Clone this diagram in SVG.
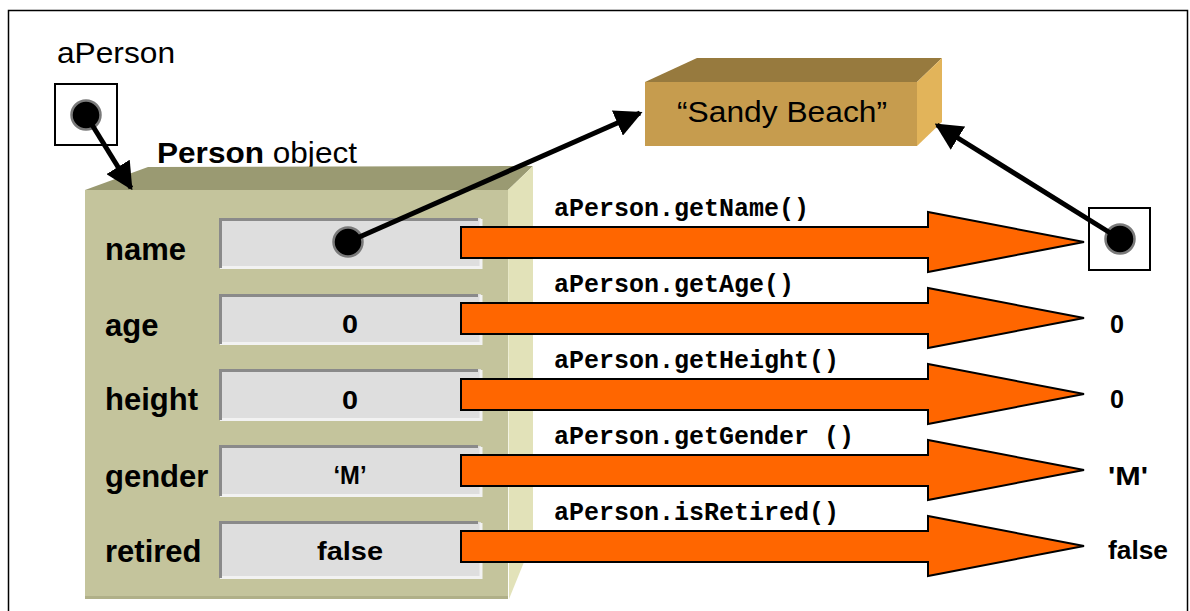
<svg xmlns="http://www.w3.org/2000/svg" width="1190" height="611" viewBox="0 0 1190 611">
<defs>
<style>
.sans{font-family:"Liberation Sans",Arial,sans-serif;fill:#000}
.b{font-weight:bold}
.lbl{font-size:31px}
.mono{font-family:"Liberation Mono","Courier New",monospace;font-weight:bold;font-size:25px;fill:#000}
.field{fill:#dedede}
.fdark{fill:none;stroke:#8a8a8a;stroke-width:3}
.flight{fill:none;stroke:#f2f2f2;stroke-width:3}
.oarrow{fill:#ff6600;stroke:#000;stroke-width:2;stroke-linejoin:miter}
.dot{fill:#000;stroke:#7a7a7a;stroke-width:2.5}
.conn{stroke:#000;stroke-width:5;fill:none}
.ptr{fill:#fff;stroke:#000;stroke-width:2}
</style>
<marker id="ah" viewBox="0 0 10 10" refX="9" refY="5" markerWidth="5.5" markerHeight="5.5" markerUnits="strokeWidth" orient="auto">
<path d="M0,0 L10,5 L0,10 z" fill="#000"/>
</marker>
</defs>
<rect x="8.5" y="10.5" width="1179" height="640" fill="#fff" stroke="#000" stroke-width="1.5"/>

<g id="aPerson-var">
<text class="sans" x="57" y="63" font-size="29" textLength="118" lengthAdjust="spacingAndGlyphs">aPerson</text>
<rect class="ptr" x="55" y="84" width="62" height="61"/>
<circle class="dot" cx="86" cy="115" r="14.5"/>
</g>

<g id="person-object">
<text class="sans" x="157" y="163" font-size="30" textLength="200" lengthAdjust="spacingAndGlyphs"><tspan class="b">Person</tspan> object</text>
<polygon points="85,190 148,167 533,166 508,190" fill="#9a9a72"/>
<polygon points="508,190 533,166 533,540 509,599" fill="#e2e2b9"/>
<rect x="85" y="190" width="423" height="409" fill="#c4c49c"/>
<line x1="85" y1="597.5" x2="508" y2="597.5" stroke="#b0b088" stroke-width="3"/>
</g>

<g id="field-name">
<text class="sans b lbl" x="105" y="260">name</text>
<rect class="field" x="219" y="218" width="262" height="50"/>
<path class="flight" d="M220,267.5 H481 V219"/>
<path class="fdark" d="M220.5,268 V219.5 H478"/>
<circle class="dot" cx="348" cy="242" r="14.5"/>
</g>
<g id="field-age">
<text class="sans b lbl" x="105" y="336">age</text>
<rect class="field" x="219" y="294" width="262" height="50"/>
<path class="flight" d="M220,343.5 H481 V295"/>
<path class="fdark" d="M220.5,344 V295.5 H478"/>
<text class="sans b" x="350" y="333" font-size="25" text-anchor="middle" textLength="16" lengthAdjust="spacingAndGlyphs">0</text>
</g>
<g id="field-height">
<text class="sans b lbl" x="105" y="410">height</text>
<rect class="field" x="219" y="369" width="262" height="51"/>
<path class="flight" d="M220,419.5 H481 V370"/>
<path class="fdark" d="M220.5,420 V370.5 H478"/>
<text class="sans b" x="350" y="409" font-size="25" text-anchor="middle" textLength="16" lengthAdjust="spacingAndGlyphs">0</text>
</g>
<g id="field-gender">
<text class="sans b lbl" x="105" y="487">gender</text>
<rect class="field" x="219" y="446" width="262" height="50"/>
<path class="flight" d="M220,495.5 H481 V447"/>
<path class="fdark" d="M220.5,496 V446.5 H478"/>
<text class="sans b" x="350" y="484" font-size="25" text-anchor="middle" textLength="33" lengthAdjust="spacingAndGlyphs">‘M’</text>
</g>
<g id="field-retired">
<text class="sans b lbl" x="105" y="562">retired</text>
<rect class="field" x="219" y="522" width="262" height="56"/>
<path class="flight" d="M220,577.5 H481 V523"/>
<path class="fdark" d="M220.5,578 V522.5 H478"/>
<text class="sans b" x="350" y="560" font-size="25" text-anchor="middle" textLength="66" lengthAdjust="spacingAndGlyphs">false</text>
</g>

<g id="sandy-beach">
<polygon points="645,82 697,58 942,58 917,82" fill="#977a3e"/>
<polygon points="917,82 942,58 942,122 917,146" fill="#e2b45a"/>
<rect x="645" y="82" width="272" height="64" fill="#c69c4e"/>
<text class="sans" x="782" y="122" font-size="30" text-anchor="middle" textLength="210" lengthAdjust="spacingAndGlyphs">“Sandy Beach”</text>
</g>

<g id="name-result">
<rect class="ptr" x="1089" y="208" width="61" height="62"/>
<circle class="dot" cx="1120" cy="239" r="14.5"/>
</g>

<g id="methods">
<text class="mono" x="554" y="216">aPerson.getName()</text>
<polygon class="oarrow" points="461,227 928,227 928,212 1084,242 928,272 928,258 461,258"/>
<text class="mono" x="554" y="292">aPerson.getAge()</text>
<polygon class="oarrow" points="461,303 928,303 928,288 1084,318 928,348 928,334 461,334"/>
<text class="sans b" x="1110" y="333" font-size="25" textLength="14" lengthAdjust="spacingAndGlyphs">0</text>
<text class="mono" x="554" y="368">aPerson.getHeight()</text>
<polygon class="oarrow" points="461,379 928,379 928,364 1084,394 928,424 928,410 461,410"/>
<text class="sans b" x="1110" y="408" font-size="25" textLength="14" lengthAdjust="spacingAndGlyphs">0</text>
<text class="mono" x="554" y="444">aPerson.getGender ()</text>
<polygon class="oarrow" points="461,455 928,455 928,440 1084,470 928,500 928,486 461,486"/>
<text class="sans b" x="1108" y="485" font-size="25" textLength="40" lengthAdjust="spacingAndGlyphs">'M'</text>
<text class="mono" x="554" y="520">aPerson.isRetired()</text>
<polygon class="oarrow" points="461,531 928,531 928,516 1084,546 928,576 928,562 461,562"/>
<text class="sans b" x="1108" y="559" font-size="25" textLength="60" lengthAdjust="spacingAndGlyphs">false</text>
</g>

<g id="connectors">
<line class="conn" x1="86" y1="115" x2="131" y2="188" marker-end="url(#ah)"/>
<line class="conn" x1="348" y1="242" x2="640" y2="113" marker-end="url(#ah)"/>
<line class="conn" x1="1120" y1="239" x2="937" y2="125" marker-end="url(#ah)"/>
</g>
</svg>
